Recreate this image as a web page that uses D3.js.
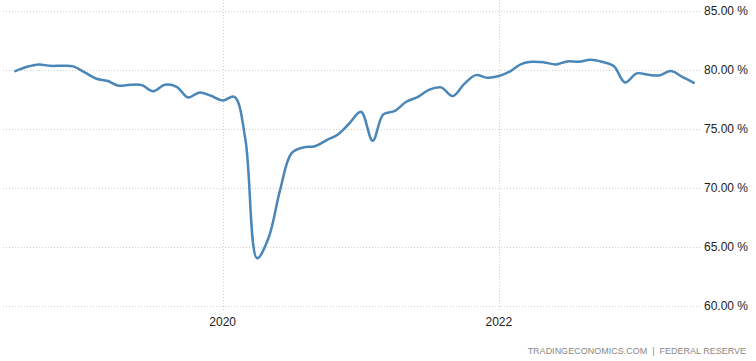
<!DOCTYPE html>
<html>
<head>
<meta charset="utf-8">
<script src="https://cdn.jsdelivr.net/npm/d3@7"></script>
<style>
  body { margin: 0; background: #fff; }
  svg { display: block; font-family: "Liberation Sans", Arial, sans-serif; }
</style>
</head>
<body>
<div id="chart"></div>
<script>
// monthly capacity utilization, Jul 2018 .. Jun 2023
var startMonth = [2018, 6]; // year, month index (0 = Jan)
var values = [
    79.87, 80.24, 80.44, 80.32, 80.32, 80.27,                               // 2018 Jul-Dec
    79.76, 79.22, 79.05, 78.63, 78.71, 78.68, 78.17, 78.71, 78.54, 77.64, 78.06, 77.78, // 2019
    77.38, 77.69, 74.1, 64.0, 65.7, 69.8, 72.9, 73.4, 73.5, 74.0, 74.5, 75.43,         // 2020
    76.42, 73.96, 76.2, 76.5, 77.27, 77.69, 78.3, 78.49, 77.75, 78.77, 79.53, 79.31,   // 2021
    79.45, 79.87, 80.47, 80.66, 80.61, 80.44, 80.69, 80.66, 80.83, 80.66, 80.3, 78.91, // 2022
    79.68, 79.56, 79.5, 79.87, 79.39, 78.88                                 // 2023 Jan-Jun
];
var yTicks = [60, 65, 70, 75, 80, 85];
var xTicks = [2020, 2022];
var sourceText = "TRADINGECONOMICS.COM  |  FEDERAL RESERVE";

function init() {
    var w = 756, h = 361;

    var data = values.map(function(v, i) {
        return { date: new Date(startMonth[0], startMonth[1] + i, 1), value: v };
    });

    var x = d3.scaleTime()
        .domain(d3.extent(data, function(d) { return d.date; }))
        .range([15.3, 693.8]);

    var y = d3.scaleLinear()
        .domain([60, 85])
        .range([305.5, 10.6]);

    var svg = d3.select("#chart").append("svg")
        .attr("width", w)
        .attr("height", h);

    // horizontal grid
    svg.selectAll("line.hgrid")
        .data(yTicks)
        .enter().append("line")
        .attr("class", "hgrid")
        .attr("x1", 3).attr("x2", 701)
        .attr("y1", function(d) { return Math.round(y(d)) + 0.5; })
        .attr("y2", function(d) { return Math.round(y(d)) + 0.5; })
        .attr("stroke", "#d0d0d0")
        .attr("stroke-dasharray", "1,2");

    // vertical grid at year ticks
    svg.selectAll("line.vgrid")
        .data(xTicks)
        .enter().append("line")
        .attr("class", "vgrid")
        .attr("x1", function(d) { return Math.round(x(new Date(d, 0, 1))) + 0.5; })
        .attr("x2", function(d) { return Math.round(x(new Date(d, 0, 1))) + 0.5; })
        .attr("y1", 0).attr("y2", 312)
        .attr("stroke", "#d0d0d0")
        .attr("stroke-dasharray", "1,2");

    // y labels on the right
    svg.selectAll("text.ylab")
        .data(yTicks)
        .enter().append("text")
        .attr("class", "ylab")
        .attr("x", 748)
        .attr("y", function(d) { return y(d) + 4; })
        .attr("text-anchor", "end")
        .attr("font-size", 12)
        .attr("fill", "#222")
        .text(function(d) { return d3.format(".2f")(d) + " %"; });

    // x labels
    svg.selectAll("text.xlab")
        .data(xTicks)
        .enter().append("text")
        .attr("class", "xlab")
        .attr("x", function(d) { return x(new Date(d, 0, 1)); })
        .attr("y", 326)
        .attr("text-anchor", "middle")
        .attr("font-size", 12)
        .attr("fill", "#222")
        .text(function(d) { return d; });

    // the line, smoothed like a spline
    var line = d3.line()
        .x(function(d) { return x(d.date); })
        .y(function(d) { return y(d.value); })
        .curve(d3.curveCatmullRom.alpha(0.5));

    svg.append("path")
        .datum(data)
        .attr("d", line)
        .attr("fill", "none")
        .attr("stroke", "#4a86b8")
        .attr("stroke-width", 2.5)
        .attr("stroke-linejoin", "round")
        .attr("stroke-linecap", "round");

    // source
    svg.append("text")
        .attr("x", 746)
        .attr("y", 354)
        .attr("text-anchor", "end")
        .attr("font-size", 9)
        .attr("fill", "#888")
        .attr("xml:space", "preserve")
        .text(sourceText);
}

window.onload = init;
</script>
</body>
</html>
